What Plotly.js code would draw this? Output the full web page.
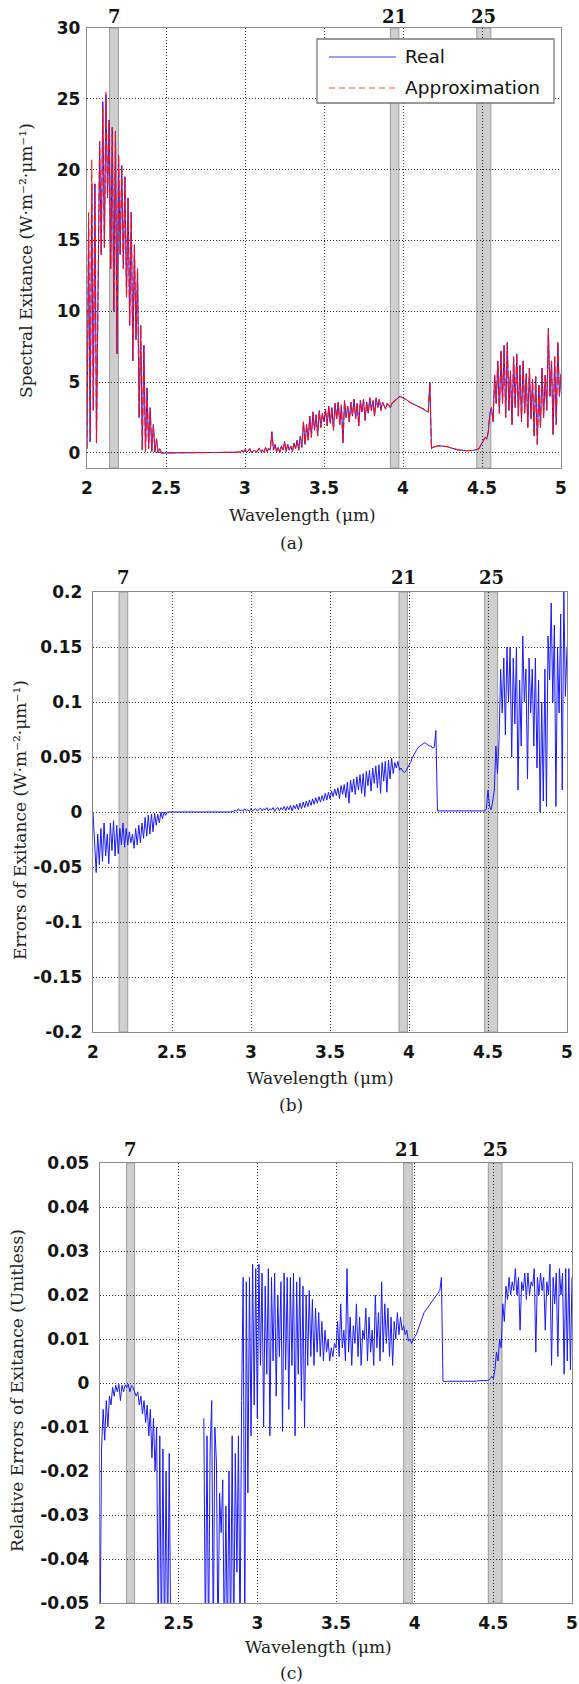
<!DOCTYPE html>
<html><head><meta charset="utf-8">
<script src="https://cdn.plot.ly/plotly-3.0.1.min.js"></script>
<style>html,body{margin:0;padding:0;background:#fff}#chart{width:579px;height:1684px}</style>
</head><body><div id="chart"></div>
<script>
// ---------------- DATA ----------------
const wavelength = [
2,2.01,2.02,2.03,2.04,2.05,2.06,2.07,2.08,2.09,
2.1,2.11,2.12,2.13,2.14,2.15,2.16,2.17,2.18,2.19,
2.2,2.21,2.22,2.23,2.24,2.25,2.26,2.27,2.28,2.29,
2.3,2.31,2.32,2.33,2.34,2.35,2.36,2.37,2.38,2.39,
2.4,2.41,2.42,2.43,2.44,2.45,2.46,2.47,2.48,2.49,
2.5,2.51,2.52,2.53,2.54,2.55,2.56,2.57,2.58,2.59,
2.6,2.61,2.62,2.63,2.64,2.65,2.66,2.67,2.68,2.69,
2.7,2.71,2.72,2.73,2.74,2.75,2.76,2.77,2.78,2.79,
2.8,2.81,2.82,2.83,2.84,2.85,2.86,2.87,2.88,2.89,
2.9,2.91,2.92,2.93,2.94,2.95,2.96,2.97,2.98,2.99,
3,3.01,3.02,3.03,3.04,3.05,3.06,3.07,3.08,3.09,
3.1,3.11,3.12,3.13,3.14,3.15,3.16,3.17,3.18,3.19,
3.2,3.21,3.22,3.23,3.24,3.25,3.26,3.27,3.28,3.29,
3.3,3.31,3.32,3.33,3.34,3.35,3.36,3.37,3.38,3.39,
3.4,3.41,3.42,3.43,3.44,3.45,3.46,3.47,3.48,3.49,
3.5,3.51,3.52,3.53,3.54,3.55,3.56,3.57,3.58,3.59,
3.6,3.61,3.62,3.63,3.64,3.65,3.66,3.67,3.68,3.69,
3.7,3.71,3.72,3.73,3.74,3.75,3.76,3.77,3.78,3.79,
3.8,3.81,3.82,3.83,3.84,3.85,3.86,3.87,3.88,3.89,
3.9,3.91,3.92,3.93,3.94,3.95,3.96,3.97,3.98,3.99,
4,4.01,4.02,4.03,4.04,4.05,4.06,4.07,4.08,4.09,
4.1,4.11,4.12,4.13,4.14,4.15,4.16,4.17,4.18,4.19,
4.2,4.21,4.22,4.23,4.24,4.25,4.26,4.27,4.28,4.29,
4.3,4.31,4.32,4.33,4.34,4.35,4.36,4.37,4.38,4.39,
4.4,4.41,4.42,4.43,4.44,4.45,4.46,4.47,4.48,4.49,
4.5,4.51,4.52,4.53,4.54,4.55,4.56,4.57,4.58,4.59,
4.6,4.61,4.62,4.63,4.64,4.65,4.66,4.67,4.68,4.69,
4.7,4.71,4.72,4.73,4.74,4.75,4.76,4.77,4.78,4.79,
4.8,4.81,4.82,4.83,4.84,4.85,4.86,4.87,4.88,4.89,
4.9,4.91,4.92,4.93,4.94,4.95,4.96,4.97,4.98,4.99,
5];

// (a) Spectral exitance, real
const realExitance = [
0.3,16,0.8,19,3,19,0.7,10,22,14,
24.8,14.5,25.3,18,23.5,13,23,10,22.7,7,
21,14,20.3,13,19.5,11,18,9,17,6.5,
14.7,8,13,2.5,9,0.2,7.6,0.1,4.6,0.3,
3.2,0.1,2,0.05,1,0.02,0.3,0,0,0,
0,0,0,0,0,0,0,0,0,0,
0,0,0,0,0,0,0,0,0,0,
0,0,0,0,0,0,0,0,0,0,
0,0,0,0,0,0,0,0,0,0,
0,0,0,0,0,0.05,0.1,0.02,0.2,0.05,
0.25,0.05,0.15,0.3,0.05,0.1,0.2,0.05,0.15,0.35,
0.1,0.2,0.05,0.4,0.1,0.3,0.2,1.5,0.2,0.6,
0.1,0.4,0.05,0.5,0.2,0.8,0.1,0.6,0.2,0.5,
0.1,0.7,0.3,0.9,0.2,1.2,0.4,2.2,0.6,2,
0.9,2.6,1.1,2.9,1.6,2.7,1.2,3,1.8,2.8,
2.2,3.1,1.9,3.3,2.1,3.2,1.6,3.5,2.4,3.6,
2,3.4,0.7,3.7,2.5,3.3,2.2,3.6,2.6,3.8,
2.4,3.5,1.9,3.7,2.9,3.8,2.3,3.6,2.8,3.9,
3,3.7,2.6,3.9,3.2,3.8,3,3.6,3.3,3.1,
3.5,3.3,3.2,3.5,3.6,3.7,3.85,3.95,4,3.95,
3.9,3.85,3.75,3.7,3.6,3.55,3.5,3.45,3.35,3.3,
3.25,3.2,3.15,3.1,3,2.95,2.9,5,0.3,0.4,
0.45,0.5,0.5,0.5,0.5,0.5,0.5,0.48,0.45,0.4,
0.38,0.35,0.3,0.28,0.25,0.22,0.2,0.2,0.18,0.18,
0.17,0.17,0.16,0.17,0.18,0.2,0.2,0.25,0.3,0.5,
0.7,0.9,1.1,1,1.5,2.8,3.2,2.2,5.5,3.5,
6.5,2.8,7.2,3.5,7.6,2.5,7.8,3,5.8,2,
6.8,3.2,7,2.6,6.2,2.2,6.5,2.8,5.6,1.8,
6,2.4,5.2,1.2,5.4,0.6,4.8,1.8,6,2.5,
5.5,3,8.8,4,6.5,1.3,6.8,2,7.8,4,
5.6];

// (a) Spectral exitance, approximation
const approxExitance = [
0.3,17,0.8,20.7,3,19,0.7,10,22,14,
24.5,14.5,25.5,18,23.5,13,23,10,22.7,7,
21,14,20.3,13,19.5,11,18,9,17,6.5,
14.7,8,13,2.5,9,0.2,7.6,0.1,4.6,0.3,
3.2,0.1,2,0.05,1,0.02,0.3,0,0,0,
0,0,0,0,0,0,0,0,0,0,
0,0,0,0,0,0,0,0,0,0,
0,0,0,0,0,0,0,0,0,0,
0,0,0,0,0,0,0,0,0,0,
0,0,0,0,0,0.05,0.1,0.02,0.2,0.05,
0.25,0.05,0.15,0.3,0.05,0.1,0.2,0.05,0.15,0.35,
0.1,0.2,0.05,0.4,0.1,0.3,0.2,1.5,0.2,0.6,
0.1,0.4,0.05,0.5,0.2,0.8,0.1,0.6,0.2,0.5,
0.1,0.7,0.3,0.9,0.2,1.2,0.4,2.2,0.6,2,
0.9,2.6,1.1,2.9,1.6,2.7,1.2,3,1.8,2.8,
2.2,3.1,1.9,3.3,2.1,3.2,1.6,3.5,2.4,3.6,
2,3.4,0.7,3.7,2.5,3.3,2.2,3.6,2.6,3.8,
2.4,3.5,1.9,3.7,2.9,3.8,2.3,3.6,2.8,3.9,
3,3.7,2.6,3.9,3.2,3.8,3,3.6,3.3,3.1,
3.5,3.3,3.2,3.5,3.6,3.7,3.85,3.95,4,3.95,
3.9,3.85,3.75,3.7,3.6,3.55,3.5,3.45,3.35,3.3,
3.25,3.2,3.15,3.1,3,2.95,2.9,5,0.3,0.4,
0.45,0.5,0.5,0.5,0.5,0.5,0.5,0.48,0.45,0.4,
0.38,0.35,0.3,0.28,0.25,0.22,0.2,0.2,0.18,0.18,
0.17,0.17,0.16,0.17,0.18,0.2,0.2,0.25,0.3,0.5,
0.7,0.9,1.1,1,1.5,2.8,3.2,2.2,5.5,3.5,
6.5,2.8,7.2,3.5,7.6,2.5,7.8,3,5.8,2,
6.8,3.2,7,2.6,6.2,2.2,6.5,2.8,5.6,1.8,
6,2.4,5.2,1.2,5.4,0.6,4.8,1.8,6,2.5,
5.5,3,8.7,4,6.5,1.3,6.8,2,7.8,4,
5.6];

// (b) Errors of exitance
const exitanceError = [
0,-0.03,-0.055,-0.02,-0.048,-0.015,-0.045,-0.01,-0.04,-0.02,
-0.047,-0.01,-0.035,-0.008,-0.04,-0.012,-0.038,-0.015,-0.03,-0.01,
-0.032,-0.015,-0.03,-0.018,-0.028,-0.02,-0.033,-0.015,-0.03,-0.012,
-0.028,-0.01,-0.024,-0.005,-0.022,-0.003,-0.02,-0.002,-0.018,-0.001,
-0.012,-0.002,-0.01,0,-0.006,0,-0.003,0,0,0,
0,0,0,0,0,0,0,0,0,0,
0,0,0,0,0,0,0,0,0,0,
0,0,0,0,0,0,0,0,0,0,
0,0,0,0,0,0,0,0,0.001,0,
0.002,0.0005,0.003,0.001,0.002,0.0005,0.003,0.001,0.002,0.0005,
0.003,0.001,0.002,0.003,0.001,0.002,0.0035,0.001,0.003,0.002,
0.004,0.001,0.003,0.002,0.004,0.0005,0.003,0.004,0.001,0.004,
0.002,0.005,0.001,0.005,0.002,0.006,0.001,0.006,0.003,0.007,
0.002,0.008,0.003,0.009,0.004,0.01,0.005,0.011,0.006,0.012,
0.007,0.013,0.008,0.014,0.009,0.015,0.01,0.017,0.011,0.018,
0.012,0.019,0.014,0.021,0.015,0.022,0.012,0.024,0.016,0.025,
0.013,0.027,0.008,0.029,0.018,0.03,0.016,0.032,0.02,0.034,
0.017,0.035,0.014,0.037,0.024,0.038,0.019,0.04,0.026,0.042,
0.022,0.043,0.017,0.045,0.028,0.046,0.018,0.047,0.03,0.049,
0.035,0.045,0.04,0.046,0.038,0.04,0.037,0.036,0.037,0.04,
0.042,0.045,0.049,0.052,0.055,0.057,0.059,0.06,0.061,0.062,
0.063,0.062,0.061,0.06,0.06,0.058,0.059,0.074,0.001,0.001,
0.001,0.001,0.001,0.001,0.001,0.001,0.001,0.001,0.001,0.001,
0.001,0.001,0.001,0.001,0.001,0.001,0.001,0.001,0.001,0.001,
0.001,0.001,0.001,0.001,0.001,0.001,0.001,0.001,0.001,0.003,
0.02,0.005,0.002,0.01,0.02,0.06,0.035,0.065,0.13,0.09,
0.14,0.07,0.15,0.1,0.15,0.05,0.14,0.08,0.15,0.02,
0.12,0.06,0.16,0.1,0.13,0.03,0.14,0.09,0.13,0.06,
0.14,0.04,0.12,0,0.1,0.01,0.13,0.005,0.16,0.12,
0.19,0.1,0.17,0.005,0.15,0.09,0.18,0.02,0.2,0.105,
0.15];

// (c) Relative errors of exitance (no value where the exitance is zero)
const relativeError = [
-0.06,-0.015,-0.006,-0.013,-0.004,-0.01,-0.003,-0.005,-0.001,-0.003,
-0.0005,-0.002,-0.0003,-0.004,-0.0005,-0.002,-0.0004,-0.001,-0.0003,-0.002,
-0.0006,-0.001,-0.002,-0.003,-0.002,-0.005,-0.003,-0.007,-0.004,-0.009,
-0.005,-0.012,-0.006,-0.017,-0.008,-0.02,-0.01,-0.06,-0.012,-0.06,
-0.015,-0.06,-0.02,-0.06,-0.016,-0.06,-0.06,null,null,null,
null,null,null,null,null,null,null,null,null,null,
null,null,null,null,null,null,-0.008,-0.06,-0.012,-0.06,
-0.015,-0.004,-0.06,-0.01,-0.018,-0.06,-0.025,-0.034,-0.022,-0.06,
-0.028,-0.06,-0.02,-0.06,-0.012,-0.06,-0.016,-0.043,-0.012,-0.06,
-0.004,0.024,-0.06,0.023,-0.025,0.024,-0.012,0.027,-0.005,0.026,
-0.008,0.027,0.004,0.025,-0.01,0.022,0.002,0.026,-0.012,0.024,
0.005,0.025,-0.003,0.02,0.006,0.023,-0.011,0.025,0.003,0.024,
-0.006,0.024,0.004,0.025,-0.012,0.023,0.002,0.024,-0.004,0.022,
-0.01,0.02,0.004,0.021,0.006,0.019,0.004,0.017,0.007,0.016,
0.006,0.014,0.005,0.012,0.007,0.01,0.005,0.008,0.006,0.009,
0.008,0.014,0.006,0.018,0.008,0.012,0.005,0.026,0.007,0.015,
0.004,0.013,0.009,0.018,0.006,0.015,0.004,0.012,0.01,0.017,
0.005,0.015,0.007,0.012,0.004,0.02,0.008,0.016,0.005,0.023,
0.007,0.018,0.009,0.017,0.006,0.015,0.004,0.014,0.01,0.016,
0.011,0.015,0.012,0.013,0.011,0.012,0.0095,0.01,0.009,0.01,
0.0105,0.011,0.012,0.013,0.014,0.015,0.016,0.0165,0.017,0.0175,
0.018,0.0185,0.019,0.0195,0.02,0.0205,0.021,0.024,0.0004,0.0004,
0.0003,0.0004,0.0004,0.0003,0.0004,0.0004,0.0003,0.0004,0.0004,0.0004,
0.0004,0.0004,0.0004,0.0004,0.0004,0.0004,0.0004,0.0004,0.0004,0.0004,
0.0005,0.0005,0.0005,0.0005,0.0005,0.0005,0.0005,0.0006,0.001,0.0015,
0.001,0.003,0.007,0.005,0.01,0.008,0.018,0.014,0.022,0.019,
0.024,0.02,0.023,0.021,0.026,0.02,0.024,0.012,0.023,0.021,
0.025,0.019,0.025,0.02,0.023,0.022,0.026,0.007,0.024,0.02,
0.025,0.021,0.024,0.012,0.023,0.02,0.027,0.004,0.024,0.018,
0.025,0.006,0.026,0.02,0.025,0.002,0.026,0.005,0.026,0.003,
0.024];

const seriesNames = ['Real', 'Approximation'];

// MODIS bands marked on each panel
const bandNames = ['7', '21', '25'];
const bandStartA = [2.143, 3.920, 4.467];
const bandEndA   = [2.199, 3.974, 4.556];
const bandStartB = [2.165, 3.937, 4.479];
const bandEndB   = [2.220, 3.990, 4.561];
const bandStartC = [2.169, 3.930, 4.468];
const bandEndC   = [2.220, 3.985, 4.555];

// Tick labels
const xTickVals = [2, 2.5, 3, 3.5, 4, 4.5, 5];
const xTickText = ['2', '2.5', '3', '3.5', '4', '4.5', '5'];
const aTickVals = [0, 5, 10, 15, 20, 25, 30];
const aTickText = ['0', '5', '10', '15', '20', '25', '30'];
const bTickVals = [-0.2, -0.15, -0.1, -0.05, 0, 0.05, 0.1, 0.15, 0.2];
const bTickText = ['-0.2', '-0.15', '-0.1', '-0.05', '0', '0.05', '0.1', '0.15', '0.2'];
const cTickVals = [-0.05, -0.04, -0.03, -0.02, -0.01, 0, 0.01, 0.02, 0.03, 0.04, 0.05];
const cTickText = ['-0.05', '-0.04', '-0.03', '-0.02', '-0.01', '0', '0.01', '0.02', '0.03', '0.04', '0.05'];

const yTitleA = 'Spectral Exitance (W·m⁻²·μm⁻¹)';
const yTitleB = 'Errors of Exitance (W·m⁻²·μm⁻¹)';
const yTitleC = 'Relative Errors of Exitance (Unitless)';
const xTitle = 'Wavelength (μm)';
const panelLabels = ['(a)', '(b)', '(c)'];

// ---------------- LAYOUT ----------------
const W = 579, H = 1684;
const PX = v => v / W;
const PY = v => 1 - v / H;

const boxes = [
  {l: 87,  r: 561, t: 28,   b: 468,  yr: [-1.06, 30],   tv: aTickVals, tt: aTickText, so: 2, bs: bandStartA, be: bandEndA,
   yTitle: yTitleA, yTx: 26, yTy: 261, xTx: 302, xTy: 515, labY: 543, bandY: 16},
  {l: 93,  r: 567, t: 592,  b: 1032, yr: [-0.2, 0.2],   tv: bTickVals, tt: bTickText, so: 6, bs: bandStartB, be: bandEndB,
   yTitle: yTitleB, yTx: 20, yTy: 820, xTx: 320, xTy: 1078, labY: 1105, bandY: 578},
  {l: 100, r: 572, t: 1163, b: 1603, yr: [-0.05, 0.05], tv: cTickVals, tt: cTickText, so: 6, bs: bandStartC, be: bandEndC,
   yTitle: yTitleC, yTx: 17, yTy: 1391, xTx: 318, xTy: 1647, labY: 1673, bandY: 1149}
];

const tickFont = {family: 'DejaVu Sans', size: 17, color: '#151515', weight: 'bold'};
const serifFont = {family: 'DejaVu Serif', size: 17, color: '#222'};

const layout = {
  width: W, height: H,
  margin: {l: 0, r: 0, t: 0, b: 0},
  paper_bgcolor: '#fff', plot_bgcolor: '#fff',
  showlegend: false,
  shapes: [], annotations: []
};

boxes.forEach((bx, i) => {
  const n = i === 0 ? '' : String(i + 1);
  layout['xaxis' + n] = {
    domain: [PX(bx.l), PX(bx.r)], anchor: 'y' + n, range: [2, 5],
    tickmode: 'array', tickvals: xTickVals, ticktext: xTickText,
    showgrid: true, gridcolor: '#2a2a2a', griddash: '1px,2px', gridwidth: 1,
    zeroline: false, showline: true, linecolor: '#8a8a8a', linewidth: 1.3, mirror: true,
    ticks: '', tickfont: tickFont, ticklabelstandoff: 4
  };
  layout['yaxis' + n] = {
    domain: [PY(bx.b), PY(bx.t)], anchor: 'x' + n, range: bx.yr,
    tickmode: 'array', tickvals: bx.tv, ticktext: bx.tt,
    showgrid: true, gridcolor: '#2a2a2a', griddash: '1px,2px', gridwidth: 1,
    zeroline: false, showline: true, linecolor: '#8a8a8a', linewidth: 1.3, mirror: true,
    ticks: '', tickfont: tickFont, ticklabelstandoff: bx.so
  };
  bandNames.forEach((name, k) => {
    layout.shapes.push({
      type: 'rect', xref: 'x' + n, yref: 'y' + n + ' domain',
      x0: bx.bs[k], x1: bx.be[k], y0: 0, y1: 1,
      fillcolor: '#cfcfcf', line: {color: '#9c9c9c', width: 1}, layer: 'below'
    });
    layout.annotations.push({
      xref: 'x' + n, yref: 'paper', x: (bx.bs[k] + bx.be[k]) / 2, y: PY(bx.bandY),
      text: name, showarrow: false, xanchor: 'center', yanchor: 'middle',
      font: {family: 'DejaVu Serif', size: 18, color: '#111', weight: 'bold'}
    });
  });
  layout.annotations.push({
    xref: 'paper', yref: 'paper', x: PX(bx.yTx), y: PY(bx.yTy), textangle: -90,
    text: bx.yTitle, showarrow: false, xanchor: 'center', yanchor: 'middle', font: serifFont
  });
  layout.annotations.push({
    xref: 'paper', yref: 'paper', x: PX(bx.xTx), y: PY(bx.xTy),
    text: xTitle, showarrow: false, xanchor: 'center', yanchor: 'middle', font: serifFont
  });
  layout.annotations.push({
    xref: 'paper', yref: 'paper', x: PX(291), y: PY(bx.labY),
    text: panelLabels[i], showarrow: false, xanchor: 'center', yanchor: 'middle', font: serifFont
  });
});

// custom legend for panel (a)
const legendColors = ['#3a3aff', '#ff4a4a'];
const legendDash = ['solid', '6px,4px'];
layout.shapes.push({
  type: 'rect', xref: 'paper', yref: 'paper',
  x0: PX(317), x1: PX(554), y0: PY(103), y1: PY(39),
  fillcolor: '#fff', line: {color: '#7a7a7a', width: 1.3}, layer: 'above'
});
[57, 88].forEach((yy, k) => {
  layout.shapes.push({
    type: 'line', xref: 'paper', yref: 'paper',
    x0: PX(329), x1: PX(396), y0: PY(yy), y1: PY(yy),
    line: {color: legendColors[k], width: 1, dash: legendDash[k]}, layer: 'above'
  });
  layout.annotations.push({
    xref: 'paper', yref: 'paper', x: PX(403), y: PY(yy),
    text: seriesNames[k], showarrow: false, xanchor: 'left', yanchor: 'middle',
    font: {family: 'DejaVu Sans', size: 18.5, color: '#111'}
  });
});

const traces = [
  {x: wavelength, y: realExitance, xaxis: 'x', yaxis: 'y', mode: 'lines', name: seriesNames[0],
   line: {color: '#1515ff', width: 1}},
  {x: wavelength, y: approxExitance, xaxis: 'x', yaxis: 'y', mode: 'lines', name: seriesNames[1],
   line: {color: '#ff0f0f', width: 1.1, dash: '8px,3px'}},
  {x: wavelength, y: exitanceError, xaxis: 'x2', yaxis: 'y2', mode: 'lines', name: 'Error',
   line: {color: '#1a1aff', width: 1}},
  {x: wavelength, y: relativeError, xaxis: 'x3', yaxis: 'y3', mode: 'lines', name: 'Relative error',
   line: {color: '#1a1aff', width: 1}, connectgaps: false}
];

Plotly.newPlot('chart', traces, layout, {staticPlot: true, displayModeBar: false});
</script>
</body></html>
